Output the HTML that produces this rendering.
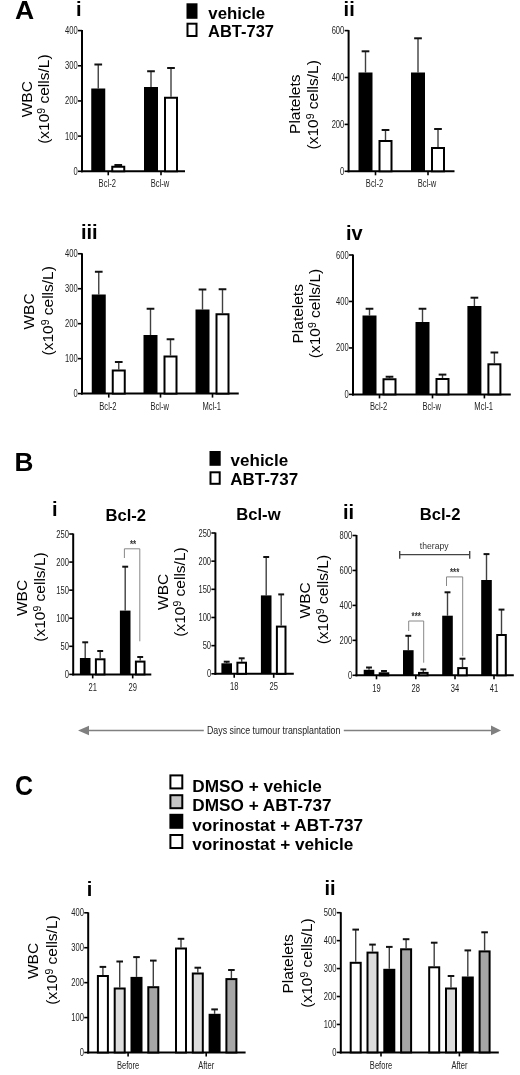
<!DOCTYPE html>
<html><head><meta charset="utf-8"><style>
html,body{margin:0;padding:0;background:#fff;}
body{width:520px;height:1075px;overflow:hidden;}
svg{display:block;font-family:"Liberation Sans", sans-serif;filter:grayscale(100%);}
</style></head><body>
<svg width="520" height="1075" viewBox="0 0 520 1075">
<text x="15.00" y="19.40" font-size="26.5" font-weight="bold" text-anchor="start" fill="#000">A</text>
<text x="14.60" y="471.20" font-size="26.2" font-weight="bold" text-anchor="start" fill="#000">B</text>
<text x="0.00" y="0.00" font-size="27.2" font-weight="bold" text-anchor="start" fill="#000" transform="translate(15.00,795.00) scale(0.92,1)">C</text>
<text x="76.00" y="16.30" font-size="20" font-weight="bold" text-anchor="start" fill="#000">i</text>
<text x="343.60" y="16.30" font-size="20" font-weight="bold" text-anchor="start" fill="#000">ii</text>
<text x="81.00" y="238.80" font-size="20" font-weight="bold" text-anchor="start" fill="#000">iii</text>
<text x="346.00" y="239.50" font-size="20" font-weight="bold" text-anchor="start" fill="#000">iv</text>
<text x="52.00" y="515.50" font-size="20" font-weight="bold" text-anchor="start" fill="#000">i</text>
<text x="343.00" y="518.80" font-size="20" font-weight="bold" text-anchor="start" fill="#000">ii</text>
<text x="86.80" y="895.90" font-size="20" font-weight="bold" text-anchor="start" fill="#000">i</text>
<text x="324.50" y="895.40" font-size="20" font-weight="bold" text-anchor="start" fill="#000">ii</text>
<text x="105.50" y="520.50" font-size="16.6" font-weight="bold" text-anchor="start" fill="#000">Bcl-2</text>
<text x="236.30" y="520.20" font-size="16.6" font-weight="bold" text-anchor="start" fill="#000">Bcl-w</text>
<text x="419.80" y="519.80" font-size="16.6" font-weight="bold" text-anchor="start" fill="#000">Bcl-2</text>
<rect x="187.50" y="4.30" width="9.00" height="13.50" fill="#000" stroke="#000" stroke-width="2"/>
<rect x="187.50" y="23.70" width="9.00" height="12.30" fill="#fff" stroke="#000" stroke-width="2"/>
<text x="208.30" y="18.80" font-size="16.8" font-weight="bold" text-anchor="start" fill="#000">vehicle</text>
<text x="208.00" y="36.50" font-size="16.5" font-weight="bold" text-anchor="start" fill="#000">ABT-737</text>
<rect x="210.50" y="452.00" width="9.20" height="12.80" fill="#000" stroke="#000" stroke-width="2"/>
<rect x="210.50" y="472.30" width="9.20" height="11.50" fill="#fff" stroke="#000" stroke-width="2"/>
<text x="230.60" y="465.80" font-size="17" font-weight="bold" text-anchor="start" fill="#000">vehicle</text>
<text x="230.20" y="485.00" font-size="17" font-weight="bold" text-anchor="start" fill="#000">ABT-737</text>
<rect x="170.40" y="775.40" width="11.90" height="13.00" fill="#fff" stroke="#000" stroke-width="2"/>
<text x="192.30" y="791.50" font-size="17.2" font-weight="bold" text-anchor="start" fill="#000">DMSO + vehicle</text>
<rect x="170.40" y="795.20" width="11.90" height="13.00" fill="#c4c4c4" stroke="#000" stroke-width="2"/>
<text x="192.30" y="811.00" font-size="17.2" font-weight="bold" text-anchor="start" fill="#000">DMSO + ABT-737</text>
<rect x="170.40" y="814.80" width="11.90" height="13.00" fill="#000" stroke="#000" stroke-width="2"/>
<text x="192.30" y="830.60" font-size="17.2" font-weight="bold" text-anchor="start" fill="#000">vorinostat + ABT-737</text>
<rect x="170.40" y="835.00" width="11.90" height="13.00" fill="#fff" stroke="#000" stroke-width="2"/>
<text x="192.30" y="850.40" font-size="17.2" font-weight="bold" text-anchor="start" fill="#000">vorinostat + vehicle</text>
<line x1="82.00" y1="30.10" x2="82.00" y2="172.30" stroke="#000" stroke-width="2" stroke-linecap="butt"/>
<line x1="81.00" y1="171.30" x2="185.00" y2="171.30" stroke="#000" stroke-width="2" stroke-linecap="butt"/>
<line x1="78.00" y1="171.30" x2="82.00" y2="171.30" stroke="#000" stroke-width="1.6" stroke-linecap="butt"/>
<text x="0.00" y="0.00" font-size="10.4" font-weight="normal" text-anchor="end" fill="#222" transform="translate(77.70,174.80) scale(0.73,1)">0</text>
<line x1="78.00" y1="136.12" x2="82.00" y2="136.12" stroke="#000" stroke-width="1.6" stroke-linecap="butt"/>
<text x="0.00" y="0.00" font-size="10.4" font-weight="normal" text-anchor="end" fill="#222" transform="translate(77.70,139.62) scale(0.73,1)">100</text>
<line x1="78.00" y1="100.95" x2="82.00" y2="100.95" stroke="#000" stroke-width="1.6" stroke-linecap="butt"/>
<text x="0.00" y="0.00" font-size="10.4" font-weight="normal" text-anchor="end" fill="#222" transform="translate(77.70,104.45) scale(0.73,1)">200</text>
<line x1="78.00" y1="65.77" x2="82.00" y2="65.77" stroke="#000" stroke-width="1.6" stroke-linecap="butt"/>
<text x="0.00" y="0.00" font-size="10.4" font-weight="normal" text-anchor="end" fill="#222" transform="translate(77.70,69.27) scale(0.73,1)">300</text>
<line x1="78.00" y1="30.60" x2="82.00" y2="30.60" stroke="#000" stroke-width="1.6" stroke-linecap="butt"/>
<text x="0.00" y="0.00" font-size="10.4" font-weight="normal" text-anchor="end" fill="#222" transform="translate(77.70,34.10) scale(0.73,1)">400</text>
<line x1="108.25" y1="171.30" x2="108.25" y2="175.30" stroke="#000" stroke-width="1.6" stroke-linecap="butt"/>
<text x="0.00" y="0.00" font-size="10.4" font-weight="normal" text-anchor="middle" fill="#222" transform="translate(107.25,186.50) scale(0.73,1)">Bcl-2</text>
<line x1="161.00" y1="171.30" x2="161.00" y2="175.30" stroke="#000" stroke-width="1.6" stroke-linecap="butt"/>
<text x="0.00" y="0.00" font-size="10.4" font-weight="normal" text-anchor="middle" fill="#222" transform="translate(160.00,186.50) scale(0.73,1)">Bcl-w</text>
<line x1="98.25" y1="64.50" x2="98.25" y2="88.50" stroke="#404040" stroke-width="1.4" stroke-linecap="butt"/>
<line x1="94.40" y1="64.50" x2="102.10" y2="64.50" stroke="#111" stroke-width="2" stroke-linecap="butt"/>
<rect x="91.25" y="88.50" width="14.00" height="82.80" fill="#000"/>
<line x1="118.25" y1="165.00" x2="118.25" y2="165.75" stroke="#404040" stroke-width="1.4" stroke-linecap="butt"/>
<line x1="114.40" y1="165.00" x2="122.10" y2="165.00" stroke="#111" stroke-width="2" stroke-linecap="butt"/>
<rect x="112.25" y="166.75" width="12.00" height="4.55" fill="#fff" stroke="#000" stroke-width="2"/>
<line x1="151.00" y1="71.25" x2="151.00" y2="87.00" stroke="#404040" stroke-width="1.4" stroke-linecap="butt"/>
<line x1="147.15" y1="71.25" x2="154.85" y2="71.25" stroke="#111" stroke-width="2" stroke-linecap="butt"/>
<rect x="144.00" y="87.00" width="14.00" height="84.30" fill="#000"/>
<line x1="171.00" y1="68.00" x2="171.00" y2="96.75" stroke="#404040" stroke-width="1.4" stroke-linecap="butt"/>
<line x1="167.15" y1="68.00" x2="174.85" y2="68.00" stroke="#111" stroke-width="2" stroke-linecap="butt"/>
<rect x="165.00" y="97.75" width="12.00" height="73.55" fill="#fff" stroke="#000" stroke-width="2"/>
<text x="0.00" y="0.00" font-size="15.5" font-weight="normal" text-anchor="middle" fill="#000" transform="translate(31.80,99.25) rotate(-90)">WBC</text>
<text x="0.00" y="0.00" font-size="15.5" font-weight="normal" text-anchor="middle" fill="#000" transform="translate(49.40,99.15) rotate(-90)">(x10<tspan font-size="10.5" dy="-4">9</tspan><tspan dy="4"> cells/L)</tspan></text>
<line x1="348.60" y1="30.10" x2="348.60" y2="172.30" stroke="#000" stroke-width="2" stroke-linecap="butt"/>
<line x1="347.60" y1="171.30" x2="454.50" y2="171.30" stroke="#000" stroke-width="2" stroke-linecap="butt"/>
<line x1="344.60" y1="171.30" x2="348.60" y2="171.30" stroke="#000" stroke-width="1.6" stroke-linecap="butt"/>
<text x="0.00" y="0.00" font-size="10.4" font-weight="normal" text-anchor="end" fill="#222" transform="translate(344.30,174.80) scale(0.73,1)">0</text>
<line x1="344.60" y1="124.40" x2="348.60" y2="124.40" stroke="#000" stroke-width="1.6" stroke-linecap="butt"/>
<text x="0.00" y="0.00" font-size="10.4" font-weight="normal" text-anchor="end" fill="#222" transform="translate(344.30,127.90) scale(0.73,1)">200</text>
<line x1="344.60" y1="77.50" x2="348.60" y2="77.50" stroke="#000" stroke-width="1.6" stroke-linecap="butt"/>
<text x="0.00" y="0.00" font-size="10.4" font-weight="normal" text-anchor="end" fill="#222" transform="translate(344.30,81.00) scale(0.73,1)">400</text>
<line x1="344.60" y1="30.60" x2="348.60" y2="30.60" stroke="#000" stroke-width="1.6" stroke-linecap="butt"/>
<text x="0.00" y="0.00" font-size="10.4" font-weight="normal" text-anchor="end" fill="#222" transform="translate(344.30,34.10) scale(0.73,1)">600</text>
<line x1="375.50" y1="171.30" x2="375.50" y2="175.30" stroke="#000" stroke-width="1.6" stroke-linecap="butt"/>
<text x="0.00" y="0.00" font-size="10.4" font-weight="normal" text-anchor="middle" fill="#222" transform="translate(374.50,186.50) scale(0.73,1)">Bcl-2</text>
<line x1="428.00" y1="171.30" x2="428.00" y2="175.30" stroke="#000" stroke-width="1.6" stroke-linecap="butt"/>
<text x="0.00" y="0.00" font-size="10.4" font-weight="normal" text-anchor="middle" fill="#222" transform="translate(427.00,186.50) scale(0.73,1)">Bcl-w</text>
<line x1="365.50" y1="51.30" x2="365.50" y2="72.50" stroke="#404040" stroke-width="1.4" stroke-linecap="butt"/>
<line x1="361.65" y1="51.30" x2="369.35" y2="51.30" stroke="#111" stroke-width="2" stroke-linecap="butt"/>
<rect x="358.50" y="72.50" width="14.00" height="98.80" fill="#000"/>
<line x1="385.50" y1="130.00" x2="385.50" y2="140.00" stroke="#404040" stroke-width="1.4" stroke-linecap="butt"/>
<line x1="381.65" y1="130.00" x2="389.35" y2="130.00" stroke="#111" stroke-width="2" stroke-linecap="butt"/>
<rect x="379.50" y="141.00" width="12.00" height="30.30" fill="#fff" stroke="#000" stroke-width="2"/>
<line x1="418.00" y1="38.30" x2="418.00" y2="72.50" stroke="#404040" stroke-width="1.4" stroke-linecap="butt"/>
<line x1="414.15" y1="38.30" x2="421.85" y2="38.30" stroke="#111" stroke-width="2" stroke-linecap="butt"/>
<rect x="411.00" y="72.50" width="14.00" height="98.80" fill="#000"/>
<line x1="438.00" y1="129.00" x2="438.00" y2="147.00" stroke="#404040" stroke-width="1.4" stroke-linecap="butt"/>
<line x1="434.15" y1="129.00" x2="441.85" y2="129.00" stroke="#111" stroke-width="2" stroke-linecap="butt"/>
<rect x="432.00" y="148.00" width="12.00" height="23.30" fill="#fff" stroke="#000" stroke-width="2"/>
<text x="0.00" y="0.00" font-size="15.5" font-weight="normal" text-anchor="middle" fill="#000" transform="translate(300.00,104.20) rotate(-90)">Platelets</text>
<text x="0.00" y="0.00" font-size="15.5" font-weight="normal" text-anchor="middle" fill="#000" transform="translate(318.00,104.80) rotate(-90)">(x10<tspan font-size="10.5" dy="-4">9</tspan><tspan dy="4"> cells/L)</tspan></text>
<line x1="82.00" y1="253.25" x2="82.00" y2="394.60" stroke="#000" stroke-width="2" stroke-linecap="butt"/>
<line x1="81.00" y1="393.60" x2="238.75" y2="393.60" stroke="#000" stroke-width="2" stroke-linecap="butt"/>
<line x1="78.00" y1="393.60" x2="82.00" y2="393.60" stroke="#000" stroke-width="1.6" stroke-linecap="butt"/>
<text x="0.00" y="0.00" font-size="10.4" font-weight="normal" text-anchor="end" fill="#222" transform="translate(77.70,397.10) scale(0.73,1)">0</text>
<line x1="78.00" y1="358.64" x2="82.00" y2="358.64" stroke="#000" stroke-width="1.6" stroke-linecap="butt"/>
<text x="0.00" y="0.00" font-size="10.4" font-weight="normal" text-anchor="end" fill="#222" transform="translate(77.70,362.14) scale(0.73,1)">100</text>
<line x1="78.00" y1="323.68" x2="82.00" y2="323.68" stroke="#000" stroke-width="1.6" stroke-linecap="butt"/>
<text x="0.00" y="0.00" font-size="10.4" font-weight="normal" text-anchor="end" fill="#222" transform="translate(77.70,327.18) scale(0.73,1)">200</text>
<line x1="78.00" y1="288.71" x2="82.00" y2="288.71" stroke="#000" stroke-width="1.6" stroke-linecap="butt"/>
<text x="0.00" y="0.00" font-size="10.4" font-weight="normal" text-anchor="end" fill="#222" transform="translate(77.70,292.21) scale(0.73,1)">300</text>
<line x1="78.00" y1="253.75" x2="82.00" y2="253.75" stroke="#000" stroke-width="1.6" stroke-linecap="butt"/>
<text x="0.00" y="0.00" font-size="10.4" font-weight="normal" text-anchor="end" fill="#222" transform="translate(77.70,257.25) scale(0.73,1)">400</text>
<line x1="108.75" y1="393.60" x2="108.75" y2="397.60" stroke="#000" stroke-width="1.6" stroke-linecap="butt"/>
<text x="0.00" y="0.00" font-size="10.4" font-weight="normal" text-anchor="middle" fill="#222" transform="translate(107.95,410.20) scale(0.73,1)">Bcl-2</text>
<line x1="160.50" y1="393.60" x2="160.50" y2="397.60" stroke="#000" stroke-width="1.6" stroke-linecap="butt"/>
<text x="0.00" y="0.00" font-size="10.4" font-weight="normal" text-anchor="middle" fill="#222" transform="translate(159.70,410.20) scale(0.73,1)">Bcl-w</text>
<line x1="212.50" y1="393.60" x2="212.50" y2="397.60" stroke="#000" stroke-width="1.6" stroke-linecap="butt"/>
<text x="0.00" y="0.00" font-size="10.4" font-weight="normal" text-anchor="middle" fill="#222" transform="translate(211.70,410.20) scale(0.73,1)">Mcl-1</text>
<line x1="98.75" y1="271.75" x2="98.75" y2="294.50" stroke="#404040" stroke-width="1.4" stroke-linecap="butt"/>
<line x1="94.90" y1="271.75" x2="102.60" y2="271.75" stroke="#111" stroke-width="2" stroke-linecap="butt"/>
<rect x="91.75" y="294.50" width="14.00" height="99.10" fill="#000"/>
<line x1="118.75" y1="362.00" x2="118.75" y2="369.50" stroke="#404040" stroke-width="1.4" stroke-linecap="butt"/>
<line x1="114.90" y1="362.00" x2="122.60" y2="362.00" stroke="#111" stroke-width="2" stroke-linecap="butt"/>
<rect x="112.75" y="370.50" width="12.00" height="23.10" fill="#fff" stroke="#000" stroke-width="2"/>
<line x1="150.50" y1="308.75" x2="150.50" y2="335.00" stroke="#404040" stroke-width="1.4" stroke-linecap="butt"/>
<line x1="146.65" y1="308.75" x2="154.35" y2="308.75" stroke="#111" stroke-width="2" stroke-linecap="butt"/>
<rect x="143.50" y="335.00" width="14.00" height="58.60" fill="#000"/>
<line x1="170.50" y1="339.25" x2="170.50" y2="355.50" stroke="#404040" stroke-width="1.4" stroke-linecap="butt"/>
<line x1="166.65" y1="339.25" x2="174.35" y2="339.25" stroke="#111" stroke-width="2" stroke-linecap="butt"/>
<rect x="164.50" y="356.50" width="12.00" height="37.10" fill="#fff" stroke="#000" stroke-width="2"/>
<line x1="202.50" y1="289.50" x2="202.50" y2="309.50" stroke="#404040" stroke-width="1.4" stroke-linecap="butt"/>
<line x1="198.65" y1="289.50" x2="206.35" y2="289.50" stroke="#111" stroke-width="2" stroke-linecap="butt"/>
<rect x="195.50" y="309.50" width="14.00" height="84.10" fill="#000"/>
<line x1="222.50" y1="289.25" x2="222.50" y2="313.25" stroke="#404040" stroke-width="1.4" stroke-linecap="butt"/>
<line x1="218.65" y1="289.25" x2="226.35" y2="289.25" stroke="#111" stroke-width="2" stroke-linecap="butt"/>
<rect x="216.50" y="314.25" width="12.00" height="79.35" fill="#fff" stroke="#000" stroke-width="2"/>
<text x="0.00" y="0.00" font-size="15.5" font-weight="normal" text-anchor="middle" fill="#000" transform="translate(34.10,311.50) rotate(-90)">WBC</text>
<text x="0.00" y="0.00" font-size="15.5" font-weight="normal" text-anchor="middle" fill="#000" transform="translate(53.20,310.80) rotate(-90)">(x10<tspan font-size="10.5" dy="-4">9</tspan><tspan dy="4"> cells/L)</tspan></text>
<line x1="353.00" y1="254.50" x2="353.00" y2="395.40" stroke="#000" stroke-width="2" stroke-linecap="butt"/>
<line x1="352.00" y1="394.40" x2="510.80" y2="394.40" stroke="#000" stroke-width="2" stroke-linecap="butt"/>
<line x1="349.00" y1="394.40" x2="353.00" y2="394.40" stroke="#000" stroke-width="1.6" stroke-linecap="butt"/>
<text x="0.00" y="0.00" font-size="10.4" font-weight="normal" text-anchor="end" fill="#222" transform="translate(348.70,397.90) scale(0.73,1)">0</text>
<line x1="349.00" y1="347.93" x2="353.00" y2="347.93" stroke="#000" stroke-width="1.6" stroke-linecap="butt"/>
<text x="0.00" y="0.00" font-size="10.4" font-weight="normal" text-anchor="end" fill="#222" transform="translate(348.70,351.43) scale(0.73,1)">200</text>
<line x1="349.00" y1="301.47" x2="353.00" y2="301.47" stroke="#000" stroke-width="1.6" stroke-linecap="butt"/>
<text x="0.00" y="0.00" font-size="10.4" font-weight="normal" text-anchor="end" fill="#222" transform="translate(348.70,304.97) scale(0.73,1)">400</text>
<line x1="349.00" y1="255.00" x2="353.00" y2="255.00" stroke="#000" stroke-width="1.6" stroke-linecap="butt"/>
<text x="0.00" y="0.00" font-size="10.4" font-weight="normal" text-anchor="end" fill="#222" transform="translate(348.70,258.50) scale(0.73,1)">600</text>
<line x1="379.50" y1="394.40" x2="379.50" y2="398.40" stroke="#000" stroke-width="1.6" stroke-linecap="butt"/>
<text x="0.00" y="0.00" font-size="10.4" font-weight="normal" text-anchor="middle" fill="#222" transform="translate(378.70,410.20) scale(0.73,1)">Bcl-2</text>
<line x1="432.50" y1="394.40" x2="432.50" y2="398.40" stroke="#000" stroke-width="1.6" stroke-linecap="butt"/>
<text x="0.00" y="0.00" font-size="10.4" font-weight="normal" text-anchor="middle" fill="#222" transform="translate(431.70,410.20) scale(0.73,1)">Bcl-w</text>
<line x1="484.40" y1="394.40" x2="484.40" y2="398.40" stroke="#000" stroke-width="1.6" stroke-linecap="butt"/>
<text x="0.00" y="0.00" font-size="10.4" font-weight="normal" text-anchor="middle" fill="#222" transform="translate(483.60,410.20) scale(0.73,1)">Mcl-1</text>
<line x1="369.50" y1="308.75" x2="369.50" y2="315.50" stroke="#404040" stroke-width="1.4" stroke-linecap="butt"/>
<line x1="365.65" y1="308.75" x2="373.35" y2="308.75" stroke="#111" stroke-width="2" stroke-linecap="butt"/>
<rect x="362.50" y="315.50" width="14.00" height="78.90" fill="#000"/>
<line x1="389.50" y1="376.75" x2="389.50" y2="378.25" stroke="#404040" stroke-width="1.4" stroke-linecap="butt"/>
<line x1="385.65" y1="376.75" x2="393.35" y2="376.75" stroke="#111" stroke-width="2" stroke-linecap="butt"/>
<rect x="383.50" y="379.25" width="12.00" height="15.15" fill="#fff" stroke="#000" stroke-width="2"/>
<line x1="422.50" y1="308.75" x2="422.50" y2="322.00" stroke="#404040" stroke-width="1.4" stroke-linecap="butt"/>
<line x1="418.65" y1="308.75" x2="426.35" y2="308.75" stroke="#111" stroke-width="2" stroke-linecap="butt"/>
<rect x="415.50" y="322.00" width="14.00" height="72.40" fill="#000"/>
<line x1="442.50" y1="374.60" x2="442.50" y2="378.00" stroke="#404040" stroke-width="1.4" stroke-linecap="butt"/>
<line x1="438.65" y1="374.60" x2="446.35" y2="374.60" stroke="#111" stroke-width="2" stroke-linecap="butt"/>
<rect x="436.50" y="379.00" width="12.00" height="15.40" fill="#fff" stroke="#000" stroke-width="2"/>
<line x1="474.40" y1="297.70" x2="474.40" y2="306.00" stroke="#404040" stroke-width="1.4" stroke-linecap="butt"/>
<line x1="470.55" y1="297.70" x2="478.25" y2="297.70" stroke="#111" stroke-width="2" stroke-linecap="butt"/>
<rect x="467.40" y="306.00" width="14.00" height="88.40" fill="#000"/>
<line x1="494.40" y1="352.50" x2="494.40" y2="363.30" stroke="#404040" stroke-width="1.4" stroke-linecap="butt"/>
<line x1="490.55" y1="352.50" x2="498.25" y2="352.50" stroke="#111" stroke-width="2" stroke-linecap="butt"/>
<rect x="488.40" y="364.30" width="12.00" height="30.10" fill="#fff" stroke="#000" stroke-width="2"/>
<text x="0.00" y="0.00" font-size="15.5" font-weight="normal" text-anchor="middle" fill="#000" transform="translate(302.60,313.80) rotate(-90)">Platelets</text>
<text x="0.00" y="0.00" font-size="15.5" font-weight="normal" text-anchor="middle" fill="#000" transform="translate(320.30,313.50) rotate(-90)">(x10<tspan font-size="10.5" dy="-4">9</tspan><tspan dy="4"> cells/L)</tspan></text>
<line x1="73.20" y1="533.50" x2="73.20" y2="675.40" stroke="#000" stroke-width="2" stroke-linecap="butt"/>
<line x1="72.20" y1="674.40" x2="151.30" y2="674.40" stroke="#000" stroke-width="2" stroke-linecap="butt"/>
<line x1="69.20" y1="674.40" x2="73.20" y2="674.40" stroke="#000" stroke-width="1.6" stroke-linecap="butt"/>
<text x="0.00" y="0.00" font-size="10.4" font-weight="normal" text-anchor="end" fill="#222" transform="translate(68.90,677.90) scale(0.73,1)">0</text>
<line x1="69.20" y1="646.32" x2="73.20" y2="646.32" stroke="#000" stroke-width="1.6" stroke-linecap="butt"/>
<text x="0.00" y="0.00" font-size="10.4" font-weight="normal" text-anchor="end" fill="#222" transform="translate(68.90,649.82) scale(0.73,1)">50</text>
<line x1="69.20" y1="618.24" x2="73.20" y2="618.24" stroke="#000" stroke-width="1.6" stroke-linecap="butt"/>
<text x="0.00" y="0.00" font-size="10.4" font-weight="normal" text-anchor="end" fill="#222" transform="translate(68.90,621.74) scale(0.73,1)">100</text>
<line x1="69.20" y1="590.16" x2="73.20" y2="590.16" stroke="#000" stroke-width="1.6" stroke-linecap="butt"/>
<text x="0.00" y="0.00" font-size="10.4" font-weight="normal" text-anchor="end" fill="#222" transform="translate(68.90,593.66) scale(0.73,1)">150</text>
<line x1="69.20" y1="562.08" x2="73.20" y2="562.08" stroke="#000" stroke-width="1.6" stroke-linecap="butt"/>
<text x="0.00" y="0.00" font-size="10.4" font-weight="normal" text-anchor="end" fill="#222" transform="translate(68.90,565.58) scale(0.73,1)">200</text>
<line x1="69.20" y1="534.00" x2="73.20" y2="534.00" stroke="#000" stroke-width="1.6" stroke-linecap="butt"/>
<text x="0.00" y="0.00" font-size="10.4" font-weight="normal" text-anchor="end" fill="#222" transform="translate(68.90,537.50) scale(0.73,1)">250</text>
<line x1="92.70" y1="674.40" x2="92.70" y2="678.40" stroke="#000" stroke-width="1.6" stroke-linecap="butt"/>
<text x="0.00" y="0.00" font-size="10.4" font-weight="normal" text-anchor="middle" fill="#222" transform="translate(92.70,690.50) scale(0.73,1)">21</text>
<line x1="132.70" y1="674.40" x2="132.70" y2="678.40" stroke="#000" stroke-width="1.6" stroke-linecap="butt"/>
<text x="0.00" y="0.00" font-size="10.4" font-weight="normal" text-anchor="middle" fill="#222" transform="translate(132.70,690.50) scale(0.73,1)">29</text>
<line x1="85.20" y1="642.30" x2="85.20" y2="658.00" stroke="#404040" stroke-width="1.4" stroke-linecap="butt"/>
<line x1="82.25" y1="642.30" x2="88.15" y2="642.30" stroke="#111" stroke-width="2" stroke-linecap="butt"/>
<rect x="79.90" y="658.00" width="10.60" height="16.40" fill="#000"/>
<line x1="100.20" y1="651.00" x2="100.20" y2="658.30" stroke="#404040" stroke-width="1.4" stroke-linecap="butt"/>
<line x1="97.25" y1="651.00" x2="103.15" y2="651.00" stroke="#111" stroke-width="2" stroke-linecap="butt"/>
<rect x="95.90" y="659.30" width="8.60" height="15.10" fill="#fff" stroke="#000" stroke-width="2"/>
<line x1="125.20" y1="566.70" x2="125.20" y2="610.60" stroke="#404040" stroke-width="1.4" stroke-linecap="butt"/>
<line x1="122.25" y1="566.70" x2="128.15" y2="566.70" stroke="#111" stroke-width="2" stroke-linecap="butt"/>
<rect x="119.90" y="610.60" width="10.60" height="63.80" fill="#000"/>
<line x1="140.20" y1="657.00" x2="140.20" y2="660.60" stroke="#404040" stroke-width="1.4" stroke-linecap="butt"/>
<line x1="137.25" y1="657.00" x2="143.15" y2="657.00" stroke="#111" stroke-width="2" stroke-linecap="butt"/>
<rect x="135.90" y="661.60" width="8.60" height="12.80" fill="#fff" stroke="#000" stroke-width="2"/>
<text x="0.00" y="0.00" font-size="15.5" font-weight="normal" text-anchor="middle" fill="#000" transform="translate(27.10,598.00) rotate(-90)">WBC</text>
<text x="0.00" y="0.00" font-size="15.5" font-weight="normal" text-anchor="middle" fill="#000" transform="translate(44.60,597.00) rotate(-90)">(x10<tspan font-size="10.5" dy="-4">9</tspan><tspan dy="4"> cells/L)</tspan></text>
<line x1="124.40" y1="548.80" x2="124.40" y2="558.00" stroke="#888" stroke-width="1.0" stroke-linecap="butt"/>
<line x1="124.40" y1="548.80" x2="139.80" y2="548.80" stroke="#888" stroke-width="1.0" stroke-linecap="butt"/>
<line x1="139.80" y1="548.80" x2="139.80" y2="641.30" stroke="#888" stroke-width="1.0" stroke-linecap="butt"/>
<text x="0.00" y="0.00" font-size="10" font-weight="bold" text-anchor="middle" fill="#333" transform="translate(133.00,548.00) scale(0.8,1)">**</text>
<line x1="215.40" y1="532.50" x2="215.40" y2="674.80" stroke="#000" stroke-width="2" stroke-linecap="butt"/>
<line x1="214.40" y1="673.80" x2="293.80" y2="673.80" stroke="#000" stroke-width="2" stroke-linecap="butt"/>
<line x1="211.40" y1="673.80" x2="215.40" y2="673.80" stroke="#000" stroke-width="1.6" stroke-linecap="butt"/>
<text x="0.00" y="0.00" font-size="10.4" font-weight="normal" text-anchor="end" fill="#222" transform="translate(211.10,677.30) scale(0.73,1)">0</text>
<line x1="211.40" y1="645.64" x2="215.40" y2="645.64" stroke="#000" stroke-width="1.6" stroke-linecap="butt"/>
<text x="0.00" y="0.00" font-size="10.4" font-weight="normal" text-anchor="end" fill="#222" transform="translate(211.10,649.14) scale(0.73,1)">50</text>
<line x1="211.40" y1="617.48" x2="215.40" y2="617.48" stroke="#000" stroke-width="1.6" stroke-linecap="butt"/>
<text x="0.00" y="0.00" font-size="10.4" font-weight="normal" text-anchor="end" fill="#222" transform="translate(211.10,620.98) scale(0.73,1)">100</text>
<line x1="211.40" y1="589.32" x2="215.40" y2="589.32" stroke="#000" stroke-width="1.6" stroke-linecap="butt"/>
<text x="0.00" y="0.00" font-size="10.4" font-weight="normal" text-anchor="end" fill="#222" transform="translate(211.10,592.82) scale(0.73,1)">150</text>
<line x1="211.40" y1="561.16" x2="215.40" y2="561.16" stroke="#000" stroke-width="1.6" stroke-linecap="butt"/>
<text x="0.00" y="0.00" font-size="10.4" font-weight="normal" text-anchor="end" fill="#222" transform="translate(211.10,564.66) scale(0.73,1)">200</text>
<line x1="211.40" y1="533.00" x2="215.40" y2="533.00" stroke="#000" stroke-width="1.6" stroke-linecap="butt"/>
<text x="0.00" y="0.00" font-size="10.4" font-weight="normal" text-anchor="end" fill="#222" transform="translate(211.10,536.50) scale(0.73,1)">250</text>
<line x1="234.20" y1="673.80" x2="234.20" y2="677.80" stroke="#000" stroke-width="1.6" stroke-linecap="butt"/>
<text x="0.00" y="0.00" font-size="10.4" font-weight="normal" text-anchor="middle" fill="#222" transform="translate(234.20,690.00) scale(0.73,1)">18</text>
<line x1="273.70" y1="673.80" x2="273.70" y2="677.80" stroke="#000" stroke-width="1.6" stroke-linecap="butt"/>
<text x="0.00" y="0.00" font-size="10.4" font-weight="normal" text-anchor="middle" fill="#222" transform="translate(273.70,690.00) scale(0.73,1)">25</text>
<line x1="226.70" y1="661.70" x2="226.70" y2="663.30" stroke="#404040" stroke-width="1.4" stroke-linecap="butt"/>
<line x1="223.75" y1="661.70" x2="229.65" y2="661.70" stroke="#111" stroke-width="2" stroke-linecap="butt"/>
<rect x="221.40" y="663.30" width="10.60" height="10.50" fill="#000"/>
<line x1="241.70" y1="658.30" x2="241.70" y2="661.70" stroke="#404040" stroke-width="1.4" stroke-linecap="butt"/>
<line x1="238.75" y1="658.30" x2="244.65" y2="658.30" stroke="#111" stroke-width="2" stroke-linecap="butt"/>
<rect x="237.40" y="662.70" width="8.60" height="11.10" fill="#fff" stroke="#000" stroke-width="2"/>
<line x1="266.20" y1="557.00" x2="266.20" y2="595.40" stroke="#404040" stroke-width="1.4" stroke-linecap="butt"/>
<line x1="263.25" y1="557.00" x2="269.15" y2="557.00" stroke="#111" stroke-width="2" stroke-linecap="butt"/>
<rect x="260.90" y="595.40" width="10.60" height="78.40" fill="#000"/>
<line x1="281.20" y1="594.40" x2="281.20" y2="625.60" stroke="#404040" stroke-width="1.4" stroke-linecap="butt"/>
<line x1="278.25" y1="594.40" x2="284.15" y2="594.40" stroke="#111" stroke-width="2" stroke-linecap="butt"/>
<rect x="276.90" y="626.60" width="8.60" height="47.20" fill="#fff" stroke="#000" stroke-width="2"/>
<text x="0.00" y="0.00" font-size="15.5" font-weight="normal" text-anchor="middle" fill="#000" transform="translate(168.00,591.90) rotate(-90)">WBC</text>
<text x="0.00" y="0.00" font-size="15.5" font-weight="normal" text-anchor="middle" fill="#000" transform="translate(184.60,592.00) rotate(-90)">(x10<tspan font-size="10.5" dy="-4">9</tspan><tspan dy="4"> cells/L)</tspan></text>
<line x1="356.50" y1="535.00" x2="356.50" y2="676.30" stroke="#000" stroke-width="2" stroke-linecap="butt"/>
<line x1="355.50" y1="675.30" x2="513.80" y2="675.30" stroke="#000" stroke-width="2" stroke-linecap="butt"/>
<line x1="352.50" y1="675.30" x2="356.50" y2="675.30" stroke="#000" stroke-width="1.6" stroke-linecap="butt"/>
<text x="0.00" y="0.00" font-size="10.4" font-weight="normal" text-anchor="end" fill="#222" transform="translate(352.20,678.80) scale(0.73,1)">0</text>
<line x1="352.50" y1="640.35" x2="356.50" y2="640.35" stroke="#000" stroke-width="1.6" stroke-linecap="butt"/>
<text x="0.00" y="0.00" font-size="10.4" font-weight="normal" text-anchor="end" fill="#222" transform="translate(352.20,643.85) scale(0.73,1)">200</text>
<line x1="352.50" y1="605.40" x2="356.50" y2="605.40" stroke="#000" stroke-width="1.6" stroke-linecap="butt"/>
<text x="0.00" y="0.00" font-size="10.4" font-weight="normal" text-anchor="end" fill="#222" transform="translate(352.20,608.90) scale(0.73,1)">400</text>
<line x1="352.50" y1="570.45" x2="356.50" y2="570.45" stroke="#000" stroke-width="1.6" stroke-linecap="butt"/>
<text x="0.00" y="0.00" font-size="10.4" font-weight="normal" text-anchor="end" fill="#222" transform="translate(352.20,573.95) scale(0.73,1)">600</text>
<line x1="352.50" y1="535.50" x2="356.50" y2="535.50" stroke="#000" stroke-width="1.6" stroke-linecap="butt"/>
<text x="0.00" y="0.00" font-size="10.4" font-weight="normal" text-anchor="end" fill="#222" transform="translate(352.20,539.00) scale(0.73,1)">800</text>
<line x1="376.50" y1="675.30" x2="376.50" y2="679.30" stroke="#000" stroke-width="1.6" stroke-linecap="butt"/>
<text x="0.00" y="0.00" font-size="10.4" font-weight="normal" text-anchor="middle" fill="#222" transform="translate(376.50,691.80) scale(0.73,1)">19</text>
<line x1="415.80" y1="675.30" x2="415.80" y2="679.30" stroke="#000" stroke-width="1.6" stroke-linecap="butt"/>
<text x="0.00" y="0.00" font-size="10.4" font-weight="normal" text-anchor="middle" fill="#222" transform="translate(415.80,691.80) scale(0.73,1)">28</text>
<line x1="455.00" y1="675.30" x2="455.00" y2="679.30" stroke="#000" stroke-width="1.6" stroke-linecap="butt"/>
<text x="0.00" y="0.00" font-size="10.4" font-weight="normal" text-anchor="middle" fill="#222" transform="translate(455.00,691.80) scale(0.73,1)">34</text>
<line x1="494.00" y1="675.30" x2="494.00" y2="679.30" stroke="#000" stroke-width="1.6" stroke-linecap="butt"/>
<text x="0.00" y="0.00" font-size="10.4" font-weight="normal" text-anchor="middle" fill="#222" transform="translate(494.00,691.80) scale(0.73,1)">41</text>
<line x1="369.00" y1="667.50" x2="369.00" y2="669.80" stroke="#404040" stroke-width="1.4" stroke-linecap="butt"/>
<line x1="366.05" y1="667.50" x2="371.95" y2="667.50" stroke="#111" stroke-width="2" stroke-linecap="butt"/>
<rect x="363.70" y="669.80" width="10.60" height="5.50" fill="#000"/>
<line x1="384.00" y1="671.00" x2="384.00" y2="672.30" stroke="#404040" stroke-width="1.4" stroke-linecap="butt"/>
<line x1="381.05" y1="671.00" x2="386.95" y2="671.00" stroke="#111" stroke-width="2" stroke-linecap="butt"/>
<rect x="379.70" y="673.30" width="8.60" height="2.00" fill="#fff" stroke="#000" stroke-width="2"/>
<line x1="408.30" y1="635.80" x2="408.30" y2="650.20" stroke="#404040" stroke-width="1.4" stroke-linecap="butt"/>
<line x1="405.35" y1="635.80" x2="411.25" y2="635.80" stroke="#111" stroke-width="2" stroke-linecap="butt"/>
<rect x="403.00" y="650.20" width="10.60" height="25.10" fill="#000"/>
<line x1="423.30" y1="669.40" x2="423.30" y2="671.90" stroke="#404040" stroke-width="1.4" stroke-linecap="butt"/>
<line x1="420.35" y1="669.40" x2="426.25" y2="669.40" stroke="#111" stroke-width="2" stroke-linecap="butt"/>
<rect x="419.00" y="672.90" width="8.60" height="2.40" fill="#fff" stroke="#000" stroke-width="2"/>
<line x1="447.50" y1="592.30" x2="447.50" y2="615.70" stroke="#404040" stroke-width="1.4" stroke-linecap="butt"/>
<line x1="444.55" y1="592.30" x2="450.45" y2="592.30" stroke="#111" stroke-width="2" stroke-linecap="butt"/>
<rect x="442.20" y="615.70" width="10.60" height="59.60" fill="#000"/>
<line x1="462.50" y1="658.70" x2="462.50" y2="667.10" stroke="#404040" stroke-width="1.4" stroke-linecap="butt"/>
<line x1="459.55" y1="658.70" x2="465.45" y2="658.70" stroke="#111" stroke-width="2" stroke-linecap="butt"/>
<rect x="458.20" y="668.10" width="8.60" height="7.20" fill="#fff" stroke="#000" stroke-width="2"/>
<line x1="486.50" y1="554.10" x2="486.50" y2="580.00" stroke="#404040" stroke-width="1.4" stroke-linecap="butt"/>
<line x1="483.55" y1="554.10" x2="489.45" y2="554.10" stroke="#111" stroke-width="2" stroke-linecap="butt"/>
<rect x="481.20" y="580.00" width="10.60" height="95.30" fill="#000"/>
<line x1="501.50" y1="609.60" x2="501.50" y2="634.00" stroke="#404040" stroke-width="1.4" stroke-linecap="butt"/>
<line x1="498.55" y1="609.60" x2="504.45" y2="609.60" stroke="#111" stroke-width="2" stroke-linecap="butt"/>
<rect x="497.20" y="635.00" width="8.60" height="40.30" fill="#fff" stroke="#000" stroke-width="2"/>
<text x="0.00" y="0.00" font-size="15.5" font-weight="normal" text-anchor="middle" fill="#000" transform="translate(309.50,600.40) rotate(-90)">WBC</text>
<text x="0.00" y="0.00" font-size="15.5" font-weight="normal" text-anchor="middle" fill="#000" transform="translate(328.40,599.60) rotate(-90)">(x10<tspan font-size="10.5" dy="-4">9</tspan><tspan dy="4"> cells/L)</tspan></text>
<line x1="408.70" y1="621.00" x2="408.70" y2="631.00" stroke="#888" stroke-width="1.0" stroke-linecap="butt"/>
<line x1="408.70" y1="621.00" x2="423.70" y2="621.00" stroke="#888" stroke-width="1.0" stroke-linecap="butt"/>
<line x1="423.70" y1="621.00" x2="423.70" y2="662.70" stroke="#888" stroke-width="1.0" stroke-linecap="butt"/>
<text x="0.00" y="0.00" font-size="10" font-weight="bold" text-anchor="middle" fill="#333" transform="translate(416.20,620.40) scale(0.8,1)">***</text>
<line x1="446.50" y1="576.90" x2="446.50" y2="586.00" stroke="#888" stroke-width="1.0" stroke-linecap="butt"/>
<line x1="446.50" y1="576.90" x2="462.70" y2="576.90" stroke="#888" stroke-width="1.0" stroke-linecap="butt"/>
<line x1="462.70" y1="576.90" x2="462.70" y2="656.20" stroke="#888" stroke-width="1.0" stroke-linecap="butt"/>
<text x="0.00" y="0.00" font-size="10" font-weight="bold" text-anchor="middle" fill="#333" transform="translate(454.60,576.30) scale(0.8,1)">***</text>
<line x1="399.70" y1="554.60" x2="469.70" y2="554.60" stroke="#444" stroke-width="1.4" stroke-linecap="butt"/>
<line x1="399.70" y1="551.00" x2="399.70" y2="558.80" stroke="#444" stroke-width="1.4" stroke-linecap="butt"/>
<line x1="469.70" y1="551.00" x2="469.70" y2="558.80" stroke="#444" stroke-width="1.4" stroke-linecap="butt"/>
<text x="0.00" y="0.00" font-size="9.6" font-weight="normal" text-anchor="middle" fill="#333" transform="translate(434.20,549.00) scale(0.9,1)">therapy</text>
<line x1="86.00" y1="730.50" x2="203.80" y2="730.50" stroke="#808080" stroke-width="1.6" stroke-linecap="butt"/>
<line x1="343.80" y1="730.50" x2="493.00" y2="730.50" stroke="#808080" stroke-width="1.6" stroke-linecap="butt"/>
<polygon points="78,730.5 89,725.8 89,735.2" fill="#808080"/>
<polygon points="501,730.5 491,725.6 491,735.3" fill="#808080"/>
<text x="0.00" y="0.00" font-size="10.6" font-weight="normal" text-anchor="start" fill="#222" transform="translate(207.00,733.60) scale(0.833,1)">Days since tumour transplantation</text>
<line x1="88.20" y1="912.30" x2="88.20" y2="1053.50" stroke="#000" stroke-width="2" stroke-linecap="butt"/>
<line x1="87.20" y1="1052.50" x2="245.60" y2="1052.50" stroke="#000" stroke-width="2" stroke-linecap="butt"/>
<line x1="84.20" y1="1052.50" x2="88.20" y2="1052.50" stroke="#000" stroke-width="1.6" stroke-linecap="butt"/>
<text x="0.00" y="0.00" font-size="10.4" font-weight="normal" text-anchor="end" fill="#222" transform="translate(83.90,1056.00) scale(0.73,1)">0</text>
<line x1="84.20" y1="1017.58" x2="88.20" y2="1017.58" stroke="#000" stroke-width="1.6" stroke-linecap="butt"/>
<text x="0.00" y="0.00" font-size="10.4" font-weight="normal" text-anchor="end" fill="#222" transform="translate(83.90,1021.08) scale(0.73,1)">100</text>
<line x1="84.20" y1="982.65" x2="88.20" y2="982.65" stroke="#000" stroke-width="1.6" stroke-linecap="butt"/>
<text x="0.00" y="0.00" font-size="10.4" font-weight="normal" text-anchor="end" fill="#222" transform="translate(83.90,986.15) scale(0.73,1)">200</text>
<line x1="84.20" y1="947.72" x2="88.20" y2="947.72" stroke="#000" stroke-width="1.6" stroke-linecap="butt"/>
<text x="0.00" y="0.00" font-size="10.4" font-weight="normal" text-anchor="end" fill="#222" transform="translate(83.90,951.22) scale(0.73,1)">300</text>
<line x1="84.20" y1="912.80" x2="88.20" y2="912.80" stroke="#000" stroke-width="1.6" stroke-linecap="butt"/>
<text x="0.00" y="0.00" font-size="10.4" font-weight="normal" text-anchor="end" fill="#222" transform="translate(83.90,916.30) scale(0.73,1)">400</text>
<line x1="128.10" y1="1052.50" x2="128.10" y2="1056.50" stroke="#000" stroke-width="1.6" stroke-linecap="butt"/>
<text x="0.00" y="0.00" font-size="10.4" font-weight="normal" text-anchor="middle" fill="#222" transform="translate(128.10,1068.50) scale(0.73,1)">Before</text>
<line x1="206.20" y1="1052.50" x2="206.20" y2="1056.50" stroke="#000" stroke-width="1.6" stroke-linecap="butt"/>
<text x="0.00" y="0.00" font-size="10.4" font-weight="normal" text-anchor="middle" fill="#222" transform="translate(206.20,1068.50) scale(0.73,1)">After</text>
<line x1="102.90" y1="966.90" x2="102.90" y2="975.00" stroke="#404040" stroke-width="1.4" stroke-linecap="butt"/>
<line x1="99.60" y1="966.90" x2="106.20" y2="966.90" stroke="#111" stroke-width="2" stroke-linecap="butt"/>
<rect x="97.90" y="976.00" width="10.00" height="76.50" fill="#fff" stroke="#000" stroke-width="2"/>
<line x1="119.70" y1="961.50" x2="119.70" y2="987.50" stroke="#404040" stroke-width="1.4" stroke-linecap="butt"/>
<line x1="116.40" y1="961.50" x2="123.00" y2="961.50" stroke="#111" stroke-width="2" stroke-linecap="butt"/>
<rect x="114.70" y="988.50" width="10.00" height="64.00" fill="#dcdcdc" stroke="#000" stroke-width="2"/>
<line x1="136.50" y1="957.10" x2="136.50" y2="976.90" stroke="#404040" stroke-width="1.4" stroke-linecap="butt"/>
<line x1="133.20" y1="957.10" x2="139.80" y2="957.10" stroke="#111" stroke-width="2" stroke-linecap="butt"/>
<rect x="130.50" y="976.90" width="12.00" height="75.60" fill="#000"/>
<line x1="153.30" y1="960.60" x2="153.30" y2="986.20" stroke="#404040" stroke-width="1.4" stroke-linecap="butt"/>
<line x1="150.00" y1="960.60" x2="156.60" y2="960.60" stroke="#111" stroke-width="2" stroke-linecap="butt"/>
<rect x="148.30" y="987.20" width="10.00" height="65.30" fill="#a6a6a6" stroke="#000" stroke-width="2"/>
<line x1="181.00" y1="938.80" x2="181.00" y2="947.50" stroke="#404040" stroke-width="1.4" stroke-linecap="butt"/>
<line x1="177.70" y1="938.80" x2="184.30" y2="938.80" stroke="#111" stroke-width="2" stroke-linecap="butt"/>
<rect x="176.00" y="948.50" width="10.00" height="104.00" fill="#fff" stroke="#000" stroke-width="2"/>
<line x1="197.80" y1="967.70" x2="197.80" y2="972.50" stroke="#404040" stroke-width="1.4" stroke-linecap="butt"/>
<line x1="194.50" y1="967.70" x2="201.10" y2="967.70" stroke="#111" stroke-width="2" stroke-linecap="butt"/>
<rect x="192.80" y="973.50" width="10.00" height="79.00" fill="#dcdcdc" stroke="#000" stroke-width="2"/>
<line x1="214.60" y1="1009.40" x2="214.60" y2="1013.80" stroke="#404040" stroke-width="1.4" stroke-linecap="butt"/>
<line x1="211.30" y1="1009.40" x2="217.90" y2="1009.40" stroke="#111" stroke-width="2" stroke-linecap="butt"/>
<rect x="208.60" y="1013.80" width="12.00" height="38.70" fill="#000"/>
<line x1="231.40" y1="970.00" x2="231.40" y2="978.10" stroke="#404040" stroke-width="1.4" stroke-linecap="butt"/>
<line x1="228.10" y1="970.00" x2="234.70" y2="970.00" stroke="#111" stroke-width="2" stroke-linecap="butt"/>
<rect x="226.40" y="979.10" width="10.00" height="73.40" fill="#a6a6a6" stroke="#000" stroke-width="2"/>
<text x="0.00" y="0.00" font-size="15.5" font-weight="normal" text-anchor="middle" fill="#000" transform="translate(38.00,961.00) rotate(-90)">WBC</text>
<text x="0.00" y="0.00" font-size="15.5" font-weight="normal" text-anchor="middle" fill="#000" transform="translate(57.00,960.00) rotate(-90)">(x10<tspan font-size="10.5" dy="-4">9</tspan><tspan dy="4"> cells/L)</tspan></text>
<line x1="340.80" y1="912.20" x2="340.80" y2="1053.40" stroke="#000" stroke-width="2" stroke-linecap="butt"/>
<line x1="339.80" y1="1052.40" x2="498.80" y2="1052.40" stroke="#000" stroke-width="2" stroke-linecap="butt"/>
<line x1="336.80" y1="1052.40" x2="340.80" y2="1052.40" stroke="#000" stroke-width="1.6" stroke-linecap="butt"/>
<text x="0.00" y="0.00" font-size="10.4" font-weight="normal" text-anchor="end" fill="#222" transform="translate(336.50,1055.90) scale(0.73,1)">0</text>
<line x1="336.80" y1="1024.46" x2="340.80" y2="1024.46" stroke="#000" stroke-width="1.6" stroke-linecap="butt"/>
<text x="0.00" y="0.00" font-size="10.4" font-weight="normal" text-anchor="end" fill="#222" transform="translate(336.50,1027.96) scale(0.73,1)">100</text>
<line x1="336.80" y1="996.52" x2="340.80" y2="996.52" stroke="#000" stroke-width="1.6" stroke-linecap="butt"/>
<text x="0.00" y="0.00" font-size="10.4" font-weight="normal" text-anchor="end" fill="#222" transform="translate(336.50,1000.02) scale(0.73,1)">200</text>
<line x1="336.80" y1="968.58" x2="340.80" y2="968.58" stroke="#000" stroke-width="1.6" stroke-linecap="butt"/>
<text x="0.00" y="0.00" font-size="10.4" font-weight="normal" text-anchor="end" fill="#222" transform="translate(336.50,972.08) scale(0.73,1)">300</text>
<line x1="336.80" y1="940.64" x2="340.80" y2="940.64" stroke="#000" stroke-width="1.6" stroke-linecap="butt"/>
<text x="0.00" y="0.00" font-size="10.4" font-weight="normal" text-anchor="end" fill="#222" transform="translate(336.50,944.14) scale(0.73,1)">400</text>
<line x1="336.80" y1="912.70" x2="340.80" y2="912.70" stroke="#000" stroke-width="1.6" stroke-linecap="butt"/>
<text x="0.00" y="0.00" font-size="10.4" font-weight="normal" text-anchor="end" fill="#222" transform="translate(336.50,916.20) scale(0.73,1)">500</text>
<line x1="381.00" y1="1052.40" x2="381.00" y2="1056.40" stroke="#000" stroke-width="1.6" stroke-linecap="butt"/>
<text x="0.00" y="0.00" font-size="10.4" font-weight="normal" text-anchor="middle" fill="#222" transform="translate(381.00,1068.50) scale(0.73,1)">Before</text>
<line x1="459.40" y1="1052.40" x2="459.40" y2="1056.40" stroke="#000" stroke-width="1.6" stroke-linecap="butt"/>
<text x="0.00" y="0.00" font-size="10.4" font-weight="normal" text-anchor="middle" fill="#222" transform="translate(459.40,1068.50) scale(0.73,1)">After</text>
<line x1="355.70" y1="929.60" x2="355.70" y2="961.80" stroke="#404040" stroke-width="1.4" stroke-linecap="butt"/>
<line x1="352.40" y1="929.60" x2="359.00" y2="929.60" stroke="#111" stroke-width="2" stroke-linecap="butt"/>
<rect x="350.70" y="962.80" width="10.00" height="89.60" fill="#fff" stroke="#000" stroke-width="2"/>
<line x1="372.50" y1="944.60" x2="372.50" y2="951.60" stroke="#404040" stroke-width="1.4" stroke-linecap="butt"/>
<line x1="369.20" y1="944.60" x2="375.80" y2="944.60" stroke="#111" stroke-width="2" stroke-linecap="butt"/>
<rect x="367.50" y="952.60" width="10.00" height="99.80" fill="#dcdcdc" stroke="#000" stroke-width="2"/>
<line x1="389.30" y1="946.90" x2="389.30" y2="968.80" stroke="#404040" stroke-width="1.4" stroke-linecap="butt"/>
<line x1="386.00" y1="946.90" x2="392.60" y2="946.90" stroke="#111" stroke-width="2" stroke-linecap="butt"/>
<rect x="383.30" y="968.80" width="12.00" height="83.60" fill="#000"/>
<line x1="406.10" y1="939.20" x2="406.10" y2="948.30" stroke="#404040" stroke-width="1.4" stroke-linecap="butt"/>
<line x1="402.80" y1="939.20" x2="409.40" y2="939.20" stroke="#111" stroke-width="2" stroke-linecap="butt"/>
<rect x="401.10" y="949.30" width="10.00" height="103.10" fill="#a6a6a6" stroke="#000" stroke-width="2"/>
<line x1="434.20" y1="942.70" x2="434.20" y2="966.30" stroke="#404040" stroke-width="1.4" stroke-linecap="butt"/>
<line x1="430.90" y1="942.70" x2="437.50" y2="942.70" stroke="#111" stroke-width="2" stroke-linecap="butt"/>
<rect x="429.20" y="967.30" width="10.00" height="85.10" fill="#fff" stroke="#000" stroke-width="2"/>
<line x1="451.00" y1="976.00" x2="451.00" y2="987.50" stroke="#404040" stroke-width="1.4" stroke-linecap="butt"/>
<line x1="447.70" y1="976.00" x2="454.30" y2="976.00" stroke="#111" stroke-width="2" stroke-linecap="butt"/>
<rect x="446.00" y="988.50" width="10.00" height="63.90" fill="#dcdcdc" stroke="#000" stroke-width="2"/>
<line x1="467.80" y1="950.40" x2="467.80" y2="976.50" stroke="#404040" stroke-width="1.4" stroke-linecap="butt"/>
<line x1="464.50" y1="950.40" x2="471.10" y2="950.40" stroke="#111" stroke-width="2" stroke-linecap="butt"/>
<rect x="461.80" y="976.50" width="12.00" height="75.90" fill="#000"/>
<line x1="484.60" y1="932.30" x2="484.60" y2="950.40" stroke="#404040" stroke-width="1.4" stroke-linecap="butt"/>
<line x1="481.30" y1="932.30" x2="487.90" y2="932.30" stroke="#111" stroke-width="2" stroke-linecap="butt"/>
<rect x="479.60" y="951.40" width="10.00" height="101.00" fill="#a6a6a6" stroke="#000" stroke-width="2"/>
<text x="0.00" y="0.00" font-size="15.5" font-weight="normal" text-anchor="middle" fill="#000" transform="translate(293.30,963.90) rotate(-90)">Platelets</text>
<text x="0.00" y="0.00" font-size="15.5" font-weight="normal" text-anchor="middle" fill="#000" transform="translate(312.30,963.00) rotate(-90)">(x10<tspan font-size="10.5" dy="-4">9</tspan><tspan dy="4"> cells/L)</tspan></text>
</svg>
</body></html>
